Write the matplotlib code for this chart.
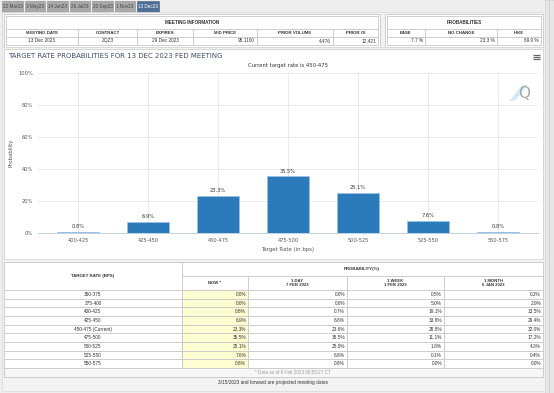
import matplotlib
matplotlib.use("Agg")
import matplotlib.pyplot as plt
from matplotlib.patches import Rectangle

# ---------------- data ----------------
tabs = ["22 Mar23", "3 May23", "14 Jun23", "26 Jul23", "20 Sep23", "1 Nov23", "13 Dec23"]
meeting_headers = ["MEETING DATE", "CONTRACT", "EXPIRES", "MID PRICE", "PRIOR VOLUME", "PRIOR OI"]
meeting_values = ["13 Dec 2023", "ZQZ3", "29 Dec 2023", "95.1100", "4,476", "12,421"]
prob_headers = ["EASE", "NO CHANGE", "HIKE"]
prob_values = ["7.7 %", "23.3 %", "69.0 %"]

categories = ["400-425", "425-450", "450-475", "475-500", "500-525", "525-550", "550-575"]
probabilities = [0.8, 6.9, 23.3, 35.5, 25.1, 7.6, 0.8]

table_rates = ["350-375", "375-400", "400-425", "425-450", "450-475 (Current)",
               "475-500", "500-525", "525-550", "550-575"]
now_vals = [0.0, 0.0, 0.8, 6.9, 23.3, 35.5, 25.1, 7.6, 0.8]
day_vals = [0.0, 0.0, 0.7, 6.8, 23.6, 35.5, 25.0, 6.8, 0.8]
week_vals = [0.5, 5.0, 19.1, 33.8, 28.8, 11.1, 1.8, 0.1, 0.0]
month_vals = [0.2, 2.9, 13.5, 29.4, 32.0, 17.2, 4.3, 0.4, 0.0]
col_headers = ["NOW *", "1 DAY\n7 FEB 2023", "1 WEEK\n1 FEB 2023", "1 MONTH\n6 JAN 2023"]

W, H = 554, 393
fig = plt.figure(figsize=(W / 100, H / 100), dpi=100)
fig.patch.set_facecolor("#eeeeee")
bg = fig.add_axes([0, 0, 1, 1])
bg.set_xlim(0, W)
bg.set_ylim(H, 0)
bg.axis("off")

TF = ["Liberation Sans", "DejaVu Sans"]
BORDER = "#c8c8c8"


def rect(x0, y0, x1, y1, fc="white", ec=BORDER, lw=0.6, z=1):
    bg.add_patch(Rectangle((x0, y0), x1 - x0, y1 - y0, facecolor=fc, edgecolor=ec, linewidth=lw, zorder=z))


def txt(x, y, s, size=3.6, ha="center", color="#333333", weight="normal", family=TF, z=5, **kw):
    bg.text(x, y, s, fontsize=size, ha=ha, va="center", color=color, fontweight=weight,
            family=family, zorder=z, **kw)


# right scrollbar
rect(545, 0, 554, H, fc="#e6e6e6", ec="#d0d0d0", lw=0.5)
bg.plot([549, 549], [0, H], color="#cfcfcf", lw=0.6)

# ---------------- tabs ----------------
tab_x = [(2, 23), (25, 45), (47, 68), (70, 90), (92, 113), (115, 135), (137, 159)]
for (x0, x1), lab in zip(tab_x, tabs):
    sel = lab == tabs[-1]
    rect(x0, 1, x1, 11.5, fc="#4f6f96" if sel else "#a8a8a8", ec="#8c8c8c" if not sel else "#3d5a7f", lw=0.4)
    txt((x0 + x1) / 2, 6.3, lab, size=3.3, color="white" if sel else "#444444")

# ---------------- meeting information ----------------
rect(2, 12, 545, 48, fc="#f2f2f2", ec="#d8d8d8", lw=0.5)
rect(4, 14, 380, 46.5)
rect(6, 16, 378, 28.5)
txt(192, 22, "MEETING INFORMATION", size=3.3, weight="bold")
mcols = [6, 78, 137, 193, 257, 333, 378]
for i in range(6):
    rect(mcols[i], 28.5, mcols[i + 1], 36.5)
    rect(mcols[i], 36.5, mcols[i + 1], 44.5)
    txt((mcols[i] + mcols[i + 1]) / 2, 32.6, meeting_headers[i], size=3.2, weight="bold")
    if i < 3:
        txt((mcols[i] + mcols[i + 1]) / 2, 40.6, meeting_values[i], size=3.4)
    else:
        txt(mcols[i + 1] - 2, 40.6, meeting_values[i], size=3.4, ha="right")

rect(385, 14, 543, 46.5)
rect(387, 16, 541, 28.5)
txt(464, 22, "PROBABILITIES", size=3.3, weight="bold")
pcols = [387, 425, 497, 541]
for i in range(3):
    rect(pcols[i], 28.5, pcols[i + 1], 36.5)
    rect(pcols[i], 36.5, pcols[i + 1], 44.5)
    txt((pcols[i] + pcols[i + 1]) / 2, 32.6, prob_headers[i], size=3.2, weight="bold")
    txt(pcols[i + 1] - 2, 40.6, prob_values[i], size=3.4, ha="right")

# ---------------- chart panel ----------------
rect(2, 47, 545, 262, fc="#f2f2f2", ec="#d8d8d8", lw=0.5)
rect(4, 48.5, 543, 260.5, ec="#d0d0d0")
txt(8, 55.5, "TARGET RATE PROBABILITIES FOR 13 DEC 2023 FED MEETING", size=5.0,
    ha="left", color="#3e4e66", family=["DejaVu Sans"])
txt(288, 65.5, "Current target rate is 450-475", size=3.8, color="#333333", family=["DejaVu Sans"])
for yy in (55.3, 57.3, 59.3):
    bg.plot([533, 540], [yy, yy], color="#666666", lw=0.9, solid_capstyle="butt", zorder=6)

# Q logo
for k in range(5):
    bg.plot([510 + k * 1.2, 522 + k * 1.2], [101 - k * 0.2, 86 - k * 0.2], color="#bfe3f5", lw=0.5, zorder=6)
txt(524, 93, "Q", size=11, color="#a9a9a9", family=["DejaVu Sans"], z=7)

ax = fig.add_axes([38 / W, 1 - 233 / H, 500 / W, 160 / H])
ax.set_facecolor("none")
x = list(range(len(categories)))
ax.bar(x, probabilities, width=0.6, color="#2b7bba", edgecolor="#9cc3e6", linewidth=0.5, zorder=3)
for xi, v in zip(x, probabilities):
    ax.text(xi, v + 1.6, f"{v:.1f}%", ha="center", va="bottom", fontsize=3.7, color="#333333", zorder=4)
ax.set_xlim(-0.571, 6.571)
ax.set_ylim(0, 100)
ax.set_yticks([0, 20, 40, 60, 80, 100])
ax.set_yticklabels([f"{t}%" for t in [0, 20, 40, 60, 80, 100]])
ax.set_xticks(x)
ax.set_xticklabels(categories)
ax.tick_params(axis="both", length=0, labelsize=3.7, colors="#555555", pad=3.5)
ax.grid(True, color="#e6e6e6", linewidth=0.6, zorder=0)
for s in ["top", "right", "left"]:
    ax.spines[s].set_visible(False)
ax.spines["bottom"].set_color("#c0d0e0")
ax.spines["bottom"].set_linewidth(0.7)
ax.set_xlabel("Target Rate (in bps)", fontsize=3.9, color="#555555", labelpad=3)
ax.set_ylabel("Probability", fontsize=3.9, color="#555555")
ax.yaxis.set_label_coords(-0.05, 0.5)

# ---------------- bottom table ----------------
rect(2, 259, 545, 391, fc="#f2f2f2", ec="#d8d8d8", lw=0.5)
rect(4, 262, 543, 377)
tcols = [4, 182, 248, 347, 444, 543]
rect(tcols[0], 262, tcols[1], 290)
txt(93, 276.5, "TARGET RATE (BPS)", size=3.2, weight="bold")
rect(tcols[1], 262, tcols[5], 276)
txt(362, 269.3, "PROBABILITY(%)", size=3.2, weight="bold")
for i in range(4):
    rect(tcols[i + 1], 276, tcols[i + 2], 290)
    txt((tcols[i + 1] + tcols[i + 2]) / 2, 283, col_headers[i], size=3.1, weight="bold", linespacing=1.1)

rh = 8.67
series = [now_vals, day_vals, week_vals, month_vals]
for r, lab in enumerate(table_rates):
    y0 = 290 + r * rh
    rect(tcols[0], y0, tcols[1], y0 + rh)
    txt(93, y0 + rh / 2, lab, size=3.4)
    for c, vals in enumerate(series):
        rect(tcols[c + 1], y0, tcols[c + 2], y0 + rh, fc="#fdfdd2" if c == 0 else "white")
        txt(tcols[c + 2] - 2, y0 + rh / 2, f"{vals[r]:.1f}%", size=3.4, ha="right")
y0 = 290 + 9 * rh
rect(4, y0, 543, 377, fc="#f7f7f7")
txt(293, (y0 + 377) / 2, "* Data as of 8 Feb 2023 08:50:27 CT", size=3.3, color="#9a9a9a")
txt(273, 382.5, "3/15/2023 and forward are projected meeting dates", size=3.4, color="#333333")

fig.savefig("out.png", dpi=100, facecolor=fig.get_facecolor())
